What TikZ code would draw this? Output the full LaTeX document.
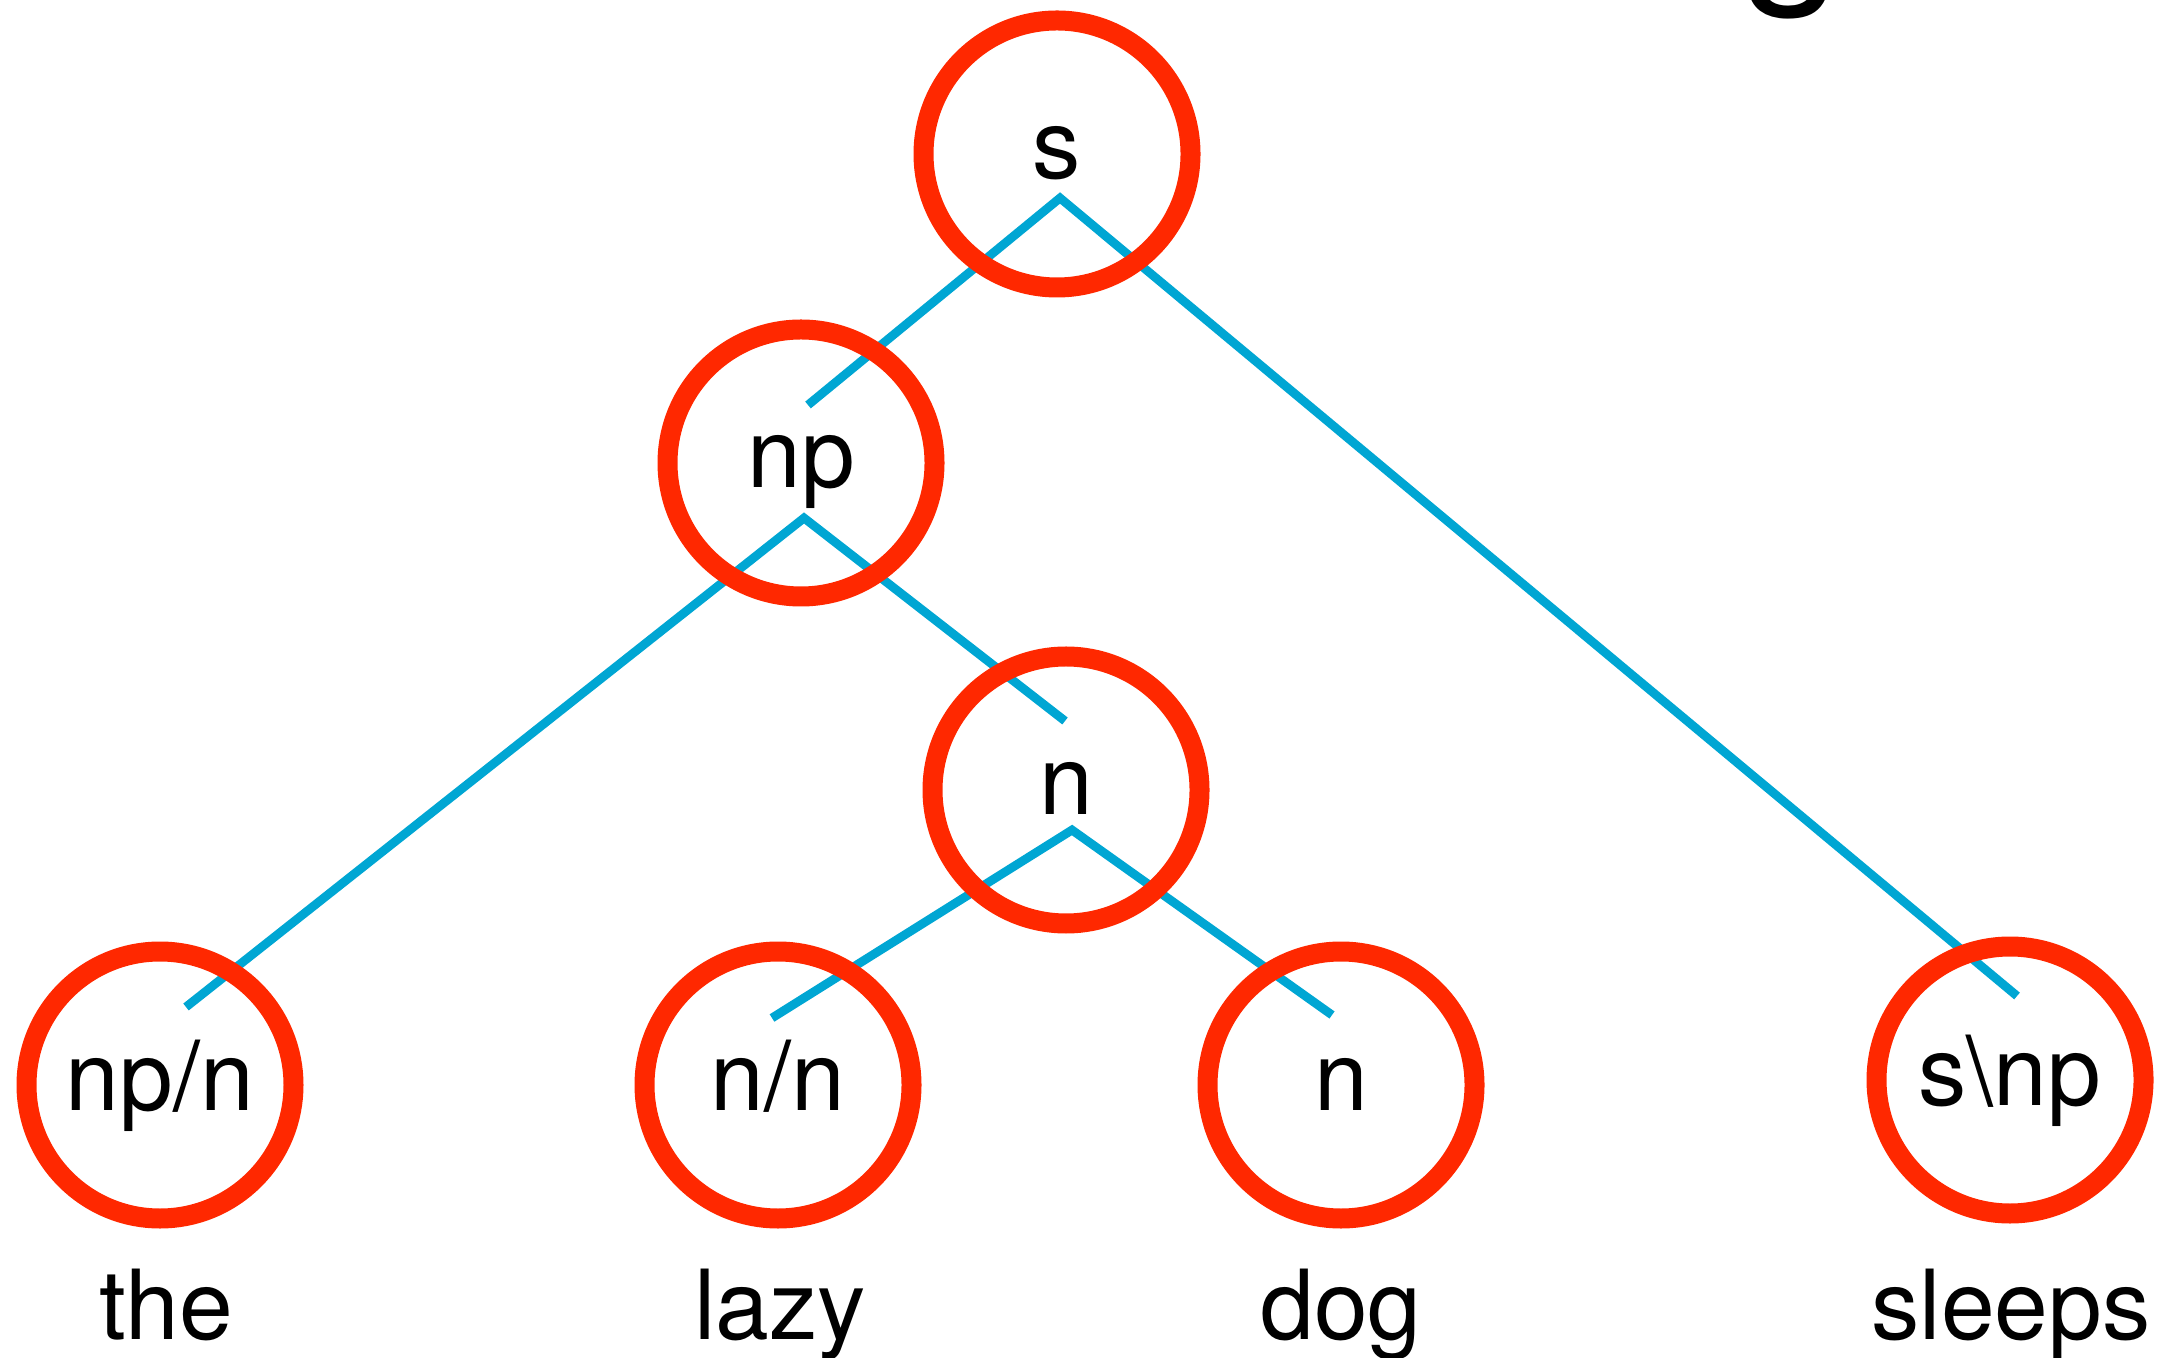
\documentclass[tikz,border=0pt]{standalone}
\usepackage{fontspec}
\setmainfont{TeX Gyre Heros}
\usetikzlibrary{positioning}
\definecolor{catred}{RGB}{255,40,0}
\definecolor{linkblue}{RGB}{0,166,211}
\tikzset{
  cat/.style={circle,draw=catred,line width=0.2cm,minimum size=2.67cm,inner sep=0pt,
    text height=0.5cm,text depth=0pt},
  link/.style={draw=linkblue,line width=2.5pt},
  word/.style={anchor=base,inner sep=0pt}
}
\begin{document}
\begin{tikzpicture}[every node/.style={font=\fontsize{27.5}{33}\selectfont}]
\useasboundingbox (0,0) rectangle (21.66,-13.58);
% branch points and free ends
\coordinate (sv) at (10.60,-1.98);
\coordinate (sl) at (8.08,-4.05);
\coordinate (sr) at (20.17,-9.96);
\coordinate (npv) at (8.04,-5.18);
\coordinate (npl) at (1.86,-10.07);
\coordinate (npr) at (10.65,-7.21);
\coordinate (nv) at (10.72,-8.30);
\coordinate (nl) at (7.72,-10.18);
\coordinate (nr) at (13.32,-10.15);
\draw[link] (sl)--(sv)--(sr);
\draw[link] (npl)--(npv)--(npr);
\draw[link] (nl)--(nv)--(nr);
% categories
\node[cat] (s) at (10.57,-1.54) {s};
\node[cat] (np) at (8.01,-4.63) {np};
\node[cat] (n) at (10.66,-7.90) {n};
\node[cat] (npn) at (1.60,-10.85) {np/n};
\node[cat] (nn) at (7.78,-10.85) {n/n};
\node[cat] (dogn) at (13.41,-10.85) {n};
\node[cat] (snp) at (20.10,-10.80) {s\textbackslash np};
% words
\node[word] (the) at (1.66,-13.39) {the};
\node[word] (lazy) at (7.80,-13.39) {lazy};
\node[word] (dog) at (13.41,-13.39) {dog};
\node[word] (sleeps) at (20.11,-13.39) {sleeps};
\node[word,font=\fontsize{53}{60}\selectfont] (title) at (17.92,0.21) {g};
\end{tikzpicture}
\end{document}
